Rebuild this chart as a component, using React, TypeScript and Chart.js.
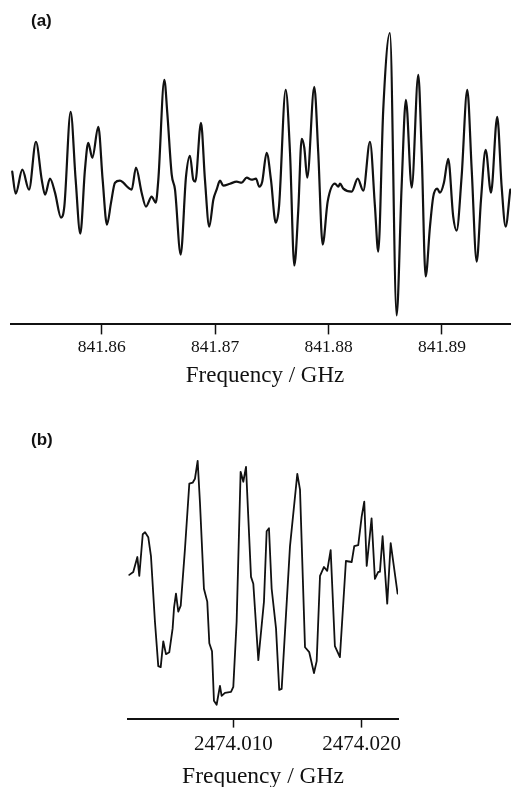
import React, { useEffect, useRef } from "react";
import { Chart, registerables } from "chart.js";

Chart.register(...registerables);

// ---------- Panel (a) ----------
const freqA = [
  841.85211, 841.85241, 841.853, 841.85359, 841.8542, 841.85471, 841.855, 841.85544, 841.85588, 841.85641,
  841.8567, 841.85726, 841.8577, 841.85811, 841.85852, 841.85881, 841.85917, 841.8597, 841.86008, 841.86046,
  841.86082, 841.86117, 841.86161, 841.8619, 841.86234, 841.86264, 841.86302, 841.86352, 841.8639, 841.8644,
  841.86476, 841.86499, 841.86552, 841.86578, 841.86617, 841.86646, 841.86696, 841.86743, 841.86778, 841.86807,
  841.86825, 841.86875, 841.8691, 841.86948, 841.86984, 841.87013, 841.87043, 841.87072, 841.87131, 841.8719,
  841.87234, 841.87278, 841.87322, 841.8736, 841.87389, 841.87415, 841.87454, 841.87492, 841.87534, 841.87563,
  841.87622, 841.8766, 841.87698, 841.87733, 841.87763, 841.87786, 841.87812, 841.87874, 841.87909, 841.87948,
  841.87992, 841.88056, 841.88086, 841.88101, 841.8813, 841.88204, 841.88257, 841.88306, 841.88365, 841.88409,
  841.88438, 841.88482, 841.88541, 841.886, 841.88644, 841.88682, 841.88733, 841.88791, 841.88821, 841.88856,
  841.88894, 841.88923, 841.88958, 841.88982, 841.89017, 841.89055, 841.89099, 841.89129, 841.89173, 841.89223,
  841.89262, 841.89306, 841.89344, 841.89385, 841.89432, 841.89487, 841.89526, 841.89561, 841.89602,
];
const intensityA = [
  0.13, -0.09, 0.15, -0.05, 0.43, 0.05, -0.1, 0.06, -0.08, -0.33,
  -0.22, 0.73, 0.05, -0.49, 0.15, 0.42, 0.27, 0.58, 0.05, -0.4,
  -0.18, 0.02, 0.04, 0.02, -0.03, -0.05, 0.17, -0.08, -0.22, -0.12,
  -0.18, 0.05, 1.05, 0.72, 0.1, -0.05, -0.7, 0.08, 0.29, 0.05,
  0.03, 0.62, 0.05, -0.42, -0.15, -0.05, 0.04, -0.01, 0.01, 0.03,
  0.02, 0.07, 0.05, 0.06, -0.02, 0.03, 0.32, 0.05, -0.38, -0.22,
  0.95, 0.32, -0.81, -0.25, 0.46, 0.37, 0.07, 0.98, 0.32, -0.6,
  -0.17, 0.01, -0.02, 0.01, -0.04, -0.07, 0.06, -0.06, 0.43, -0.22,
  -0.67, 0.75, 1.52, -1.31, -0.02, 0.85, -0.03, 1.1, 0.32, -0.92,
  -0.42, -0.12, -0.04, -0.08, 0.02, 0.26, -0.32, -0.46, 0.08, 0.95,
  0.15, -0.77, -0.15, 0.35, -0.08, 0.68, -0.02, -0.42, -0.05,
];
const tickValuesA = [841.86, 841.87, 841.88, 841.89];
const tickLabelsA = ["841.86", "841.87", "841.88", "841.89"];
// the axis runs past the right edge of the page (clipped there), as in the reference
const rangeA = { xMin: 841.852, xMax: 841.89679, yMin: -1.4, yMax: 1.55 };

// ---------- Panel (b) ----------
const freqB = [
  2474.00189, 2474.0022, 2474.00252, 2474.00267, 2474.00294, 2474.00312, 2474.00337, 2474.00358, 2474.00389, 2474.00415,
  2474.00434, 2474.00454, 2474.00475, 2474.00501, 2474.00527, 2474.00538, 2474.00553, 2474.00571, 2474.0059, 2474.00623,
  2474.00657, 2474.00683, 2474.00701, 2474.00722, 2474.0074, 2474.00771, 2474.00797, 2474.00813, 2474.00834, 2474.00849,
  2474.0087, 2474.00896, 2474.00909, 2474.00935, 2474.00982, 2474.01, 2474.01026, 2474.01057, 2474.01078, 2474.01099,
  2474.01138, 2474.01156, 2474.01195, 2474.01239, 2474.0126, 2474.01278, 2474.01299, 2474.01333, 2474.01358, 2474.01377,
  2474.01442, 2474.01499, 2474.0152, 2474.01559, 2474.01592, 2474.01629, 2474.0165, 2474.01676, 2474.01707, 2474.01732,
  2474.01759, 2474.01792, 2474.01831, 2474.01878, 2474.01923, 2474.01943, 2474.01974, 2474.02001, 2474.02021, 2474.0204,
  2474.02078, 2474.02104, 2474.0213, 2474.02143, 2474.02164, 2474.022, 2474.02227, 2474.02281,
];
const intensityB = [
  0.24, 0.27, 0.42, 0.23, 0.65, 0.67, 0.62, 0.43, -0.23, -0.68,
  -0.69, -0.43, -0.56, -0.54, -0.3, -0.09, 0.05, -0.13, -0.07, 0.5,
  1.16, 1.17, 1.21, 1.39, 0.97, 0.1, -0.03, -0.45, -0.53, -1.03,
  -1.07, -0.88, -0.98, -0.95, -0.94, -0.89, -0.23, 1.28, 1.18, 1.33,
  0.22, 0.15, -0.62, -0.03, 0.68, 0.71, 0.1, -0.3, -0.92, -0.91,
  0.53, 1.26, 1.1, -0.49, -0.54, -0.75, -0.63, 0.23, 0.32, 0.28,
  0.49, -0.48, -0.59, 0.38, 0.37, 0.53, 0.54, 0.83, 0.98, 0.33,
  0.81, 0.2, 0.27, 0.27, 0.63, -0.05, 0.56, 0.05,
];
const tickValuesB = [2474.01, 2474.02];
const tickLabelsB = ["2474.010", "2474.020"];
const rangeB = { xMin: 2474.00179, xMax: 2474.02284, yMin: -1.21, yMax: 1.5 };

const axisTitle = "Frequency / GHz";
const panelLabels = ["(a)", "(b)"];

const SERIF = '"Liberation Serif", "Times New Roman", Times, serif';
const INK = "#111";

type PanelOpts = {
  freqs: number[];
  values: number[];
  range: { xMin: number; xMax: number; yMin: number; yMax: number };
  tickValues: number[];
  tickLabels: string[];
  padding: { left: number; right: number; top: number; bottom: number };
  tickFont: number;
  tickPad: number;
  titleFont: number;
  titlePad: { top: number; bottom: number };
  tickLength: number;
  lineWidth: number;
  smooth: boolean;
};

function makeConfig(p: PanelOpts): any {
  return {
    type: "line",
    data: {
      datasets: [
        {
          data: p.freqs.map((f, i) => ({ x: f, y: p.values[i] })),
          borderColor: INK,
          borderWidth: p.lineWidth,
          pointRadius: 0,
          fill: false,
          tension: p.smooth ? 0.4 : 0,
          cubicInterpolationMode: p.smooth ? "monotone" : "default",
          borderJoinStyle: "round",
          borderCapStyle: "round",
        },
      ],
    },
    options: {
      animation: false,
      responsive: false,
      devicePixelRatio: 1,
      layout: { padding: p.padding },
      plugins: { legend: { display: false }, tooltip: { enabled: false }, title: { display: false } },
      scales: {
        x: {
          type: "linear",
          position: "bottom",
          min: p.range.xMin,
          max: p.range.xMax,
          afterBuildTicks: (scale: any) => {
            scale.ticks = p.tickValues.map((v) => ({ value: v }));
          },
          border: { display: true, color: INK, width: 2 },
          grid: {
            display: true,
            drawOnChartArea: false,
            drawTicks: true,
            tickLength: p.tickLength,
            tickColor: INK,
            tickWidth: 1.5,
          },
          ticks: {
            autoSkip: false,
            maxRotation: 0,
            minRotation: 0,
            padding: p.tickPad,
            color: INK,
            font: { family: SERIF, size: p.tickFont },
            callback: (_v: any, i: number) => p.tickLabels[i],
          },
          title: {
            display: true,
            text: axisTitle,
            color: INK,
            font: { family: SERIF, size: p.titleFont },
            padding: p.titlePad,
          },
        },
        y: { display: false, min: p.range.yMin, max: p.range.yMax },
      },
    },
  };
}

export default function App() {
  const refA = useRef<HTMLCanvasElement>(null);
  const refB = useRef<HTMLCanvasElement>(null);

  useEffect(() => {
    const a = new Chart(
      refA.current as HTMLCanvasElement,
      makeConfig({
        freqs: freqA,
        values: intensityA,
        range: rangeA,
        tickValues: tickValuesA,
        tickLabels: tickLabelsA,
        padding: { left: 11, right: 0, top: 30, bottom: 0 },
        tickFont: 17.5,
        tickPad: 3,
        titleFont: 23,
        titlePad: { top: 1, bottom: 10 },
        tickLength: 10,
        lineWidth: 2.2,
        smooth: true,
      })
    );
    const b = new Chart(
      refB.current as HTMLCanvasElement,
      makeConfig({
        freqs: freqB,
        values: intensityB,
        range: rangeB,
        tickValues: tickValuesB,
        tickLabels: tickLabelsB,
        padding: { left: 128, right: 113, top: 50, bottom: 0 },
        tickFont: 21,
        tickPad: 4,
        titleFont: 23.5,
        titlePad: { top: 2, bottom: 9 },
        tickLength: 9,
        lineWidth: 1.8,
        smooth: false,
      })
    );
    return () => {
      a.destroy();
      b.destroy();
    };
  }, []);

  const labelStyle: React.CSSProperties = {
    position: "absolute",
    left: 31,
    font: 'bold 17px "Liberation Sans", Arial, Helvetica, sans-serif',
    lineHeight: "17px",
    color: INK,
  };

  return (
    <div
      style={{
        position: "fixed",
        left: 0,
        top: 0,
        width: 511,
        height: 787,
        overflow: "hidden",
        background: "#fff",
      }}
    >
      <canvas ref={refA} width={519} height={400} style={{ position: "absolute", left: 0, top: 0 }} />
      <canvas ref={refB} width={511} height={400} style={{ position: "absolute", left: 0, top: 400 }} />
      <div style={{ ...labelStyle, top: 12 }}>{panelLabels[0]}</div>
      <div style={{ ...labelStyle, top: 431 }}>{panelLabels[1]}</div>
    </div>
  );
}
